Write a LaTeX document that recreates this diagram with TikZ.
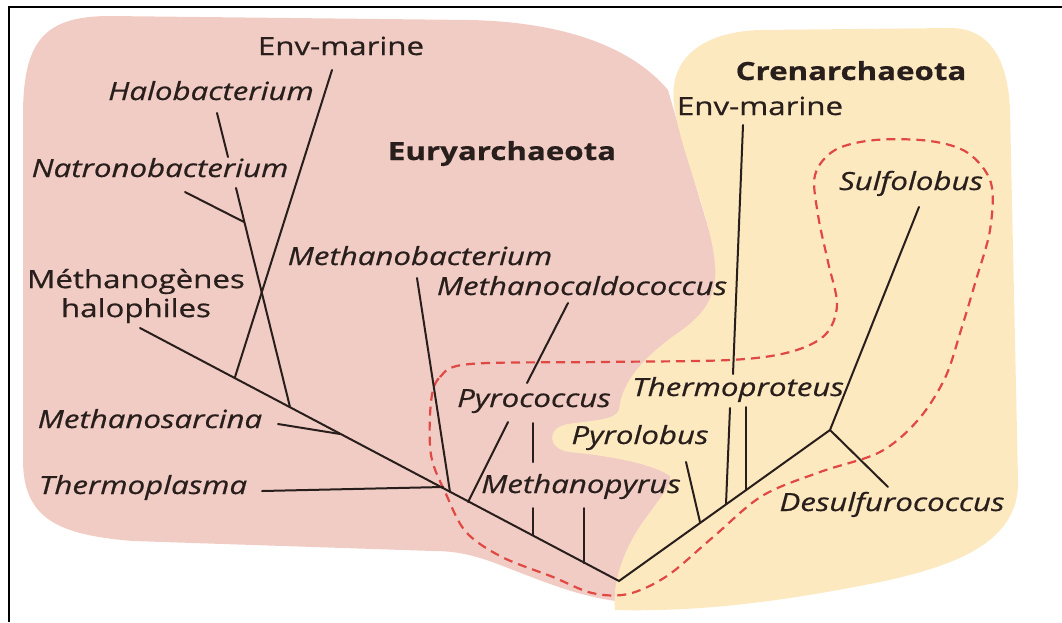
\documentclass[tikz,border=0pt]{standalone}
\usepackage{fontspec}
\setmainfont{Open Sans}[FakeStretch=1.25, FakeBold=0.6]
\definecolor{pinkc}{RGB}{241,204,196}
\definecolor{beigec}{RGB}{252,233,192}
\definecolor{dashc}{RGB}{224,72,68}
\definecolor{treec}{RGB}{40,30,28}
\begin{document}
\begin{tikzpicture}[x=1pt,y=-1pt,
  br/.style={line width=2pt, draw=treec, line cap=round},
  lab/.style={font=\fontsize{25}{29}\selectfont, inner sep=0pt, text=treec, anchor=base},
  ilab/.style={lab, font=\fontsize{25}{29}\selectfont\itshape},
  blab/.style={lab, font=\fontsize{25}{29}\selectfont\bfseries},
  grp/.style={draw=dashc, line width=2.2pt, dash pattern=on 9pt off 6pt}]
\useasboundingbox (0,0) rectangle (1062,622);
% regions
\fill[pinkc] (23,115) .. controls (23,40) and (45,16) .. (110,16) -- (470,20)
  .. controls (560,22) and (630,45) .. (668,90) -- (700,200) -- (730,300) -- (700,480)
  -- (650,560) -- (625,602) .. controls (580,598) and (540,580) .. (500,565)
  .. controls (470,553) and (450,551) .. (433,551) -- (133,541)
  .. controls (60,535) and (23,520) .. (23,460) -- cycle;
\fill[beigec] (615,610) .. controls (612,580) and (625,545) .. (648,515)
  .. controls (660,498) and (672,485) .. (670,476)
  .. controls (650,462) and (600,455) .. (570,452)
  .. controls (548,450) and (545,428) .. (568,424)
  .. controls (595,420) and (615,420) .. (619,410)
  .. controls (621,385) and (640,360) .. (675,335)
  .. controls (700,318) and (718,300) .. (715,265)
  .. controls (712,220) and (680,150) .. (674,105)
  .. controls (668,60) and (700,32) .. (760,30) -- (950,28)
  .. controls (990,28) and (1008,60) .. (1010,110) -- (1018,480)
  .. controls (1020,540) and (960,565) .. (880,582)
  .. controls (780,602) and (700,612) .. (615,610) -- cycle;
% frame
\draw[line width=2.5pt] (9,622) -- (9,7) -- (1062,7);
% hyperthermophile group
\draw[grp] plot[smooth cycle, tension=0.55] coordinates {(431,402) (440,377) (470,364) (600,362) (730,360) (790,352) (825,335) (837,305) (828,262) (818,215) (815,175) (835,150) (875,140) (930,141) (968,153) (991,183) (990,230) (976,280) (961,330) (945,378) (918,420) (880,452) (820,472) (762,496) (712,538) (667,576) (628,594) (592,593) (553,577) (502,557) (466,532) (446,494) (431,455)};
% tree coordinates
\coordinate (root) at (619,581);
\coordinate (lt) at (140,328);
\coordinate (rj) at (830,430);
\coordinate (j1) at (235,377);
\coordinate (e1) at (332,70);
\coordinate (j2) at (290,407);
\coordinate (a1) at (236,188);
\coordinate (a2) at (228,157);
\coordinate (a3) at (217,113);
\coordinate (j2a) at (244,222);
\coordinate (nat) at (185,192);
\coordinate (j3) at (340,434);
\coordinate (msa) at (278,424);
\coordinate (j4) at (443,487);
\coordinate (thp) at (262,491);
\coordinate (j5) at (450,492);
\coordinate (mba) at (417,278);
\coordinate (j6) at (468,502);
\coordinate (c1) at (508,422);
\coordinate (c2) at (527,383);
\coordinate (c3) at (568,303);
\coordinate (j7) at (533,535);
\coordinate (p1) at (533,508);
\coordinate (p2) at (533,462);
\coordinate (p3) at (533,423);
\coordinate (j8) at (584,563);
\coordinate (mpy) at (584,508);
\coordinate (j9) at (700,522);
\coordinate (pyl) at (686,462);
\coordinate (j10) at (726,504);
\coordinate (r1) at (730,408);
\coordinate (r2) at (733,374);
\coordinate (r3) at (743,125);
\coordinate (j11) at (746,490);
\coordinate (thpr) at (746,407);
\coordinate (sul) at (919,207);
\coordinate (des) at (888,487);
% tree
\draw[br] (lt) -- (root) -- (rj);
\draw[br] (j1) -- (e1);
\draw[br] (j2) -- (a1);
\draw[br] (a2) -- (a3);
\draw[br] (j2a) -- (nat);
\draw[br] (j3) -- (msa);
\draw[br] (j4) -- (thp);
\draw[br] (j5) -- (mba);
\draw[br] (j6) -- (c1);
\draw[br] (c2) -- (c3);
\draw[br] (j7) -- (p1);
\draw[br] (p2) -- (p3);
\draw[br] (j8) -- (mpy);
\draw[br] (j9) -- (pyl);
\draw[br] (j10) -- (r1);
\draw[br] (r2) -- (r3);
\draw[br] (j11) -- (thpr);
\draw[br] (rj) -- (sul);
\draw[br] (rj) -- (des);
% labels
\node[lab] (envL) at (341,55) {Env-marine};
\node[ilab] (halo) at (211,100) {Halobacterium};
\node[ilab] (natro) at (160,177) {Natronobacterium};
\node[blab] (eury) at (502,160) {Euryarchaeota};
\node[lab, align=center, anchor=center] (metha) at (136,296) {Méthanogènes\\halophiles};
\node[ilab] (mbact) at (420,265) {Methanobacterium};
\node[ilab] (mcaldo) at (582,295) {Methanocaldococcus};
\node[ilab] (pyroc) at (534,407) {Pyrococcus};
\node[ilab] (msarc) at (150,428) {Methanosarcina};
\node[ilab] (thpl) at (143,494) {Thermoplasma};
\node[ilab] (mpyr) at (581,493) {Methanopyrus};
\node[ilab] (pyrol) at (640,444) {Pyrolobus};
\node[ilab] (thpro) at (738,396) {Thermoproteus};
\node[blab] (cren) at (851,80) {Crenarchaeota};
\node[lab] (envR) at (760,115) {Env-marine};
\node[ilab] (sulfo) at (911,190) {Sulfolobus};
\node[ilab] (desulf) at (892,511) {Desulfurococcus};
\end{tikzpicture}
\end{document}
